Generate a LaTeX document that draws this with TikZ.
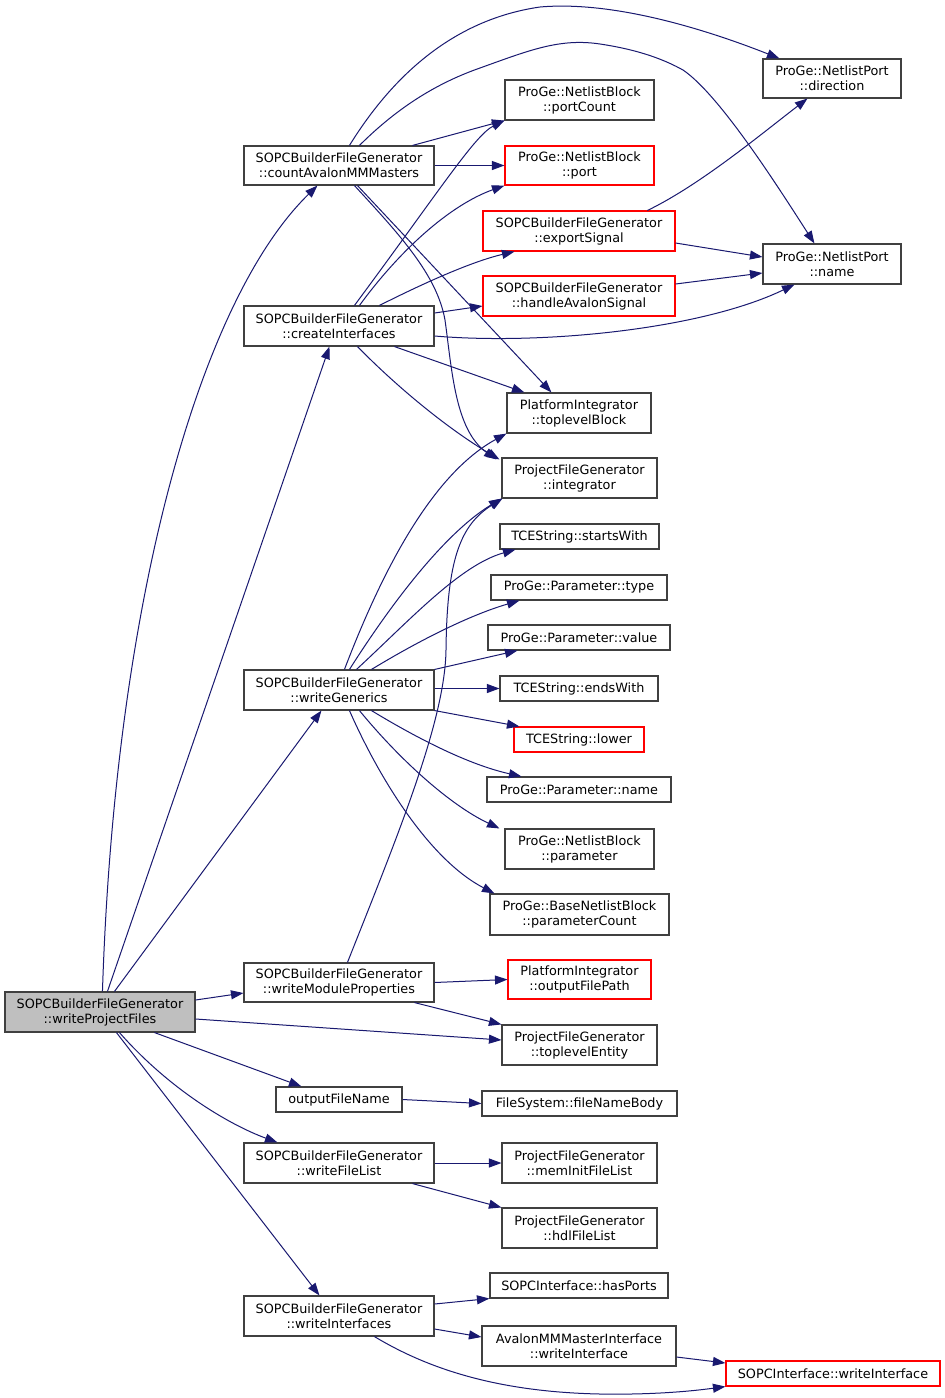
\documentclass[tikz,border=0pt]{standalone}
\usepackage{fontspec}
\setmainfont{DejaVu Sans}
\usetikzlibrary{arrows.meta}
\definecolor{edgec}{HTML}{191970}
\definecolor{boxc}{HTML}{404040}
\definecolor{redc}{HTML}{FF0000}
\definecolor{mainfill}{HTML}{BFBFBF}
\tikzset{
  box/.style={draw=boxc, line width=1.1pt, fill=white, inner sep=0pt, align=center,
    font=\fontsize{12.8}{15}\selectfont},
  redbox/.style={box, draw=redc},
  mainbox/.style={box, fill=mainfill},
  conn/.style={draw=edgec, line width=1pt, -{Triangle[length=12.5pt,width=9pt]}}
}
\begin{document}
\begin{tikzpicture}[x=1pt,y=-1pt]
\useasboundingbox[fill=white] (0,0) rectangle (945,1398);
% left column
\node[mainbox, minimum width=190pt, minimum height=40pt] (wpf) at (100,1012) {SOPCBuilderFileGenerator\\::writeProjectFiles};
\node[box, minimum width=190pt, minimum height=39pt] (cam) at (339,165.5) {SOPCBuilderFileGenerator\\::countAvalonMMMasters};
\node[box, minimum width=190pt, minimum height=40pt] (ci) at (339,326) {SOPCBuilderFileGenerator\\::createInterfaces};
\node[box, minimum width=190pt, minimum height=40pt] (wg) at (339,690) {SOPCBuilderFileGenerator\\::writeGenerics};
\node[box, minimum width=190pt, minimum height=39pt] (wmp) at (339,982.5) {SOPCBuilderFileGenerator\\::writeModuleProperties};
\node[box, minimum width=126pt, minimum height=25pt] (ofn) at (339,1099.5) {outputFileName};
\node[box, minimum width=190pt, minimum height=40pt] (wfl) at (339,1163) {SOPCBuilderFileGenerator\\::writeFileList};
\node[box, minimum width=190pt, minimum height=40pt] (wi) at (339,1316) {SOPCBuilderFileGenerator\\::writeInterfaces};
% right nodes
\node[box, minimum width=138pt, minimum height=39pt] (dir) at (832,78.5) {ProGe::NetlistPort\\::direction};
\node[box, minimum width=138pt, minimum height=40pt] (pname) at (832,264) {ProGe::NetlistPort\\::name};
\node[box, minimum width=149pt, minimum height=40pt] (pc) at (579.5,100) {ProGe::NetlistBlock\\::portCount};
\node[redbox, minimum width=149pt, minimum height=39pt] (port) at (579.5,165.5) {ProGe::NetlistBlock\\::port};
\node[redbox, minimum width=192pt, minimum height=40pt] (es) at (579,231) {SOPCBuilderFileGenerator\\::exportSignal};
\node[redbox, minimum width=192pt, minimum height=40pt] (has) at (579,296) {SOPCBuilderFileGenerator\\::handleAvalonSignal};
\node[box, minimum width=144pt, minimum height=40pt] (tlb) at (579,413) {PlatformIntegrator\\::toplevelBlock};
\node[box, minimum width=155pt, minimum height=40pt] (integ) at (579.5,478) {ProjectFileGenerator\\::integrator};
\node[box, minimum width=159pt, minimum height=25pt] (sw) at (579.5,536.5) {TCEString::startsWith};
\node[box, minimum width=176pt, minimum height=25pt] (ptype) at (579,587.5) {ProGe::Parameter::type};
\node[box, minimum width=182pt, minimum height=25pt] (pval) at (579,637.5) {ProGe::Parameter::value};
\node[box, minimum width=158pt, minimum height=25pt] (ew) at (579,688.5) {TCEString::endsWith};
\node[redbox, minimum width=130pt, minimum height=25pt] (low) at (579,739.5) {TCEString::lower};
\node[box, minimum width=184pt, minimum height=25pt] (parname) at (579,789.5) {ProGe::Parameter::name};
\node[box, minimum width=149pt, minimum height=40pt] (param) at (579.5,849) {ProGe::NetlistBlock\\::parameter};
\node[box, minimum width=179pt, minimum height=41pt] (pcount) at (579.5,914.5) {ProGe::BaseNetlistBlock\\::parameterCount};
\node[redbox, minimum width=143pt, minimum height=39pt] (ofp) at (579.5,979.5) {PlatformIntegrator\\::outputFilePath};
\node[box, minimum width=155pt, minimum height=40pt] (tle) at (579.5,1045) {ProjectFileGenerator\\::toplevelEntity};
\node[box, minimum width=195pt, minimum height=25pt] (fnb) at (579.5,1103.5) {FileSystem::fileNameBody};
\node[box, minimum width=155pt, minimum height=40pt] (mif) at (579.5,1163) {ProjectFileGenerator\\::memInitFileList};
\node[box, minimum width=155pt, minimum height=40pt] (hfl) at (579.5,1228) {ProjectFileGenerator\\::hdlFileList};
\node[box, minimum width=178pt, minimum height=25pt] (hp) at (579,1285.5) {SOPCInterface::hasPorts};
\node[box, minimum width=194pt, minimum height=40pt] (amm) at (579,1346) {AvalonMMMasterInterface\\::writeInterface};
\node[redbox, minimum width=214pt, minimum height=25pt] (swi) at (833,1373.5) {SOPCInterface::writeInterface};

% edges from writeProjectFiles
\draw[conn] ([xshift=98pt]wpf.north west) .. controls (115,600) and (200,300) .. ([xshift=74pt]cam.south west);
\draw[conn] ([xshift=103pt]wpf.north west) -- ([xshift=86pt]ci.south west);
\draw[conn] ([xshift=110pt]wpf.north west) -- ([xshift=78pt]wg.south west);
\draw[conn] ([yshift=12pt]wpf.east) -- ([yshift=-10.5pt]wmp.west);
\draw[conn] ([yshift=-7pt]wpf.east) -- ([yshift=5pt]tle.west);
\draw[conn] ([xshift=150pt]wpf.south west) -- ([xshift=26pt]ofn.north west);
\draw[conn] ([xshift=115pt]wpf.south west) .. controls (170,1090) and (230,1125) .. ([xshift=34pt]wfl.north west);
\draw[conn] ([xshift=112pt]wpf.south west) -- ([xshift=76pt]wi.north west);

% edges from countAvalonMMMasters
\draw[conn] ([xshift=106pt]cam.north west) .. controls (390,80) and (450,20) .. (540,7) .. controls (620,0) and (720,35) .. ([xshift=17pt]dir.north west);
\draw[conn] ([xshift=116pt]cam.north west) .. controls (400,105) and (440,82) .. (480,68) .. controls (530,50) and (560,38) .. (600,44) .. controls (640,50) and (665,60) .. (683,70) .. controls (720,95) and (780,190) .. ([xshift=52pt]pname.north west);
\draw[conn] ([xshift=169pt]cam.north west) -- (pc.south west);
\draw[conn] (cam.east) -- (port.west);
\draw[conn] ([xshift=114pt]cam.south west) -- ([xshift=45pt]tlb.north west);
\draw[conn] ([xshift=111pt]cam.south west) .. controls (400,235) and (437,275) .. (445,320) .. controls (452,370) and (455,430) .. ([xshift=-5pt,yshift=-2pt]integ.north west);

% edges from createInterfaces
\draw[conn] ([xshift=111pt]ci.north west) .. controls (440,190) and (475,135) .. (pc.south west);
\draw[conn] ([xshift=116pt]ci.north west) .. controls (400,250) and (450,205) .. (port.south west);
\draw[conn] ([xshift=136pt]ci.north west) .. controls (420,285) and (470,262) .. ([xshift=32pt]es.south west);
\draw[conn] ([yshift=13pt]ci.east) -- ([yshift=-10pt]has.west);
\draw[conn] ([yshift=-10pt]ci.east) .. controls (540,345) and (700,330) .. ([xshift=32pt]pname.south west);
\draw[conn] ([xshift=151pt]ci.south west) -- ([xshift=18pt]tlb.north west);
\draw[conn] ([xshift=114pt]ci.south west) .. controls (400,390) and (450,430) .. ([xshift=-2pt,yshift=-2pt]integ.north west);

% exportSignal / handleAvalonSignal
\draw[conn] ([xshift=165pt]es.north west) .. controls (700,185) and (760,135) .. ([xshift=45pt]dir.south west);
\draw[conn] ([yshift=-12pt]es.east) -- ([yshift=7pt]pname.west);
\draw[conn] ([yshift=12pt]has.east) -- ([yshift=-9pt]pname.west);

% edges from writeGenerics
\draw[conn] ([xshift=101pt]wg.north west) .. controls (390,550) and (440,470) .. (tlb.south west);
\draw[conn] ([xshift=106pt]wg.north west) .. controls (400,590) and (450,530) .. (integ.south west);
\draw[conn] ([xshift=113pt]wg.north west) .. controls (410,620) and (460,565) .. ([xshift=16pt]sw.south west);
\draw[conn] ([xshift=128pt]wg.north west) .. controls (420,640) and (470,615) .. ([xshift=29pt]ptype.south west);
\draw[conn] (wg.north east) -- ([xshift=30pt]pval.south west);
\draw[conn] ([yshift=1.5pt]wg.east) -- (ew.west);
\draw[conn] (wg.south east) -- ([xshift=6pt]low.north west);
\draw[conn] ([xshift=128pt]wg.south west) .. controls (420,740) and (470,765) .. ([xshift=35pt]parname.north west);
\draw[conn] ([xshift=116pt]wg.south west) .. controls (400,760) and (450,805) .. ([xshift=-5pt]param.north west);
\draw[conn] ([xshift=106pt]wg.south west) .. controls (380,780) and (430,860) .. ([xshift=5pt]pcount.north west);

% edges from writeModuleProperties
\draw[conn] ([xshift=104pt]wmp.north west) .. controls (400,830) and (445,720) .. (446,650) .. controls (447,560) and (460,525) .. ([xshift=1pt]integ.south west);
\draw[conn] (wmp.east) -- (ofp.west);
\draw[conn] ([xshift=171pt]wmp.south west) -- (tle.north west);

% others
\draw[conn] (ofn.east) -- (fnb.west);
\draw[conn] (wfl.east) -- (mif.west);
\draw[conn] ([xshift=169pt]wfl.south west) -- (hfl.north west);
\draw[conn] ([yshift=12pt]wi.east) -- (hp.south west);
\draw[conn] ([yshift=-13pt]wi.east) -- ([yshift=9pt]amm.west);
\draw[conn] ([xshift=131pt]wi.south west) .. controls (430,1370) and (500,1392) .. (600,1394) .. controls (660,1395) and (700,1390) .. (swi.south west);
\draw[conn] ([yshift=-11pt]amm.east) -- ([yshift=10.5pt]swi.west);
\end{tikzpicture}
\end{document}
